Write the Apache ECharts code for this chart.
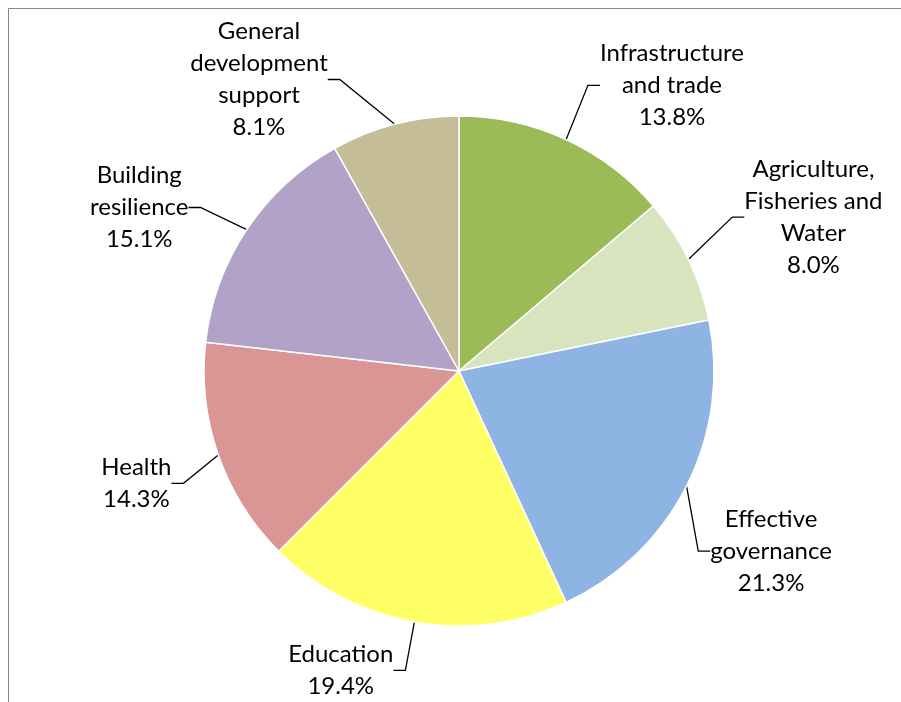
<!DOCTYPE html>
<html>
<head>
<meta charset="utf-8">
<script src="https://cdn.jsdelivr.net/npm/echarts@6/dist/echarts.min.js"></script>
<style>html,body{margin:0;padding:0;background:#fff}#c{width:901px;height:702px}</style>
</head>
<body>
<div id="c"></div>
<script>
var categories = ["Infrastructure\nand trade", "Agriculture,\nFisheries and\nWater", "Effective\ngovernance", "Education", "Health", "Building\nresilience", "General\ndevelopment\nsupport"];
var shares = [13.8, 8.0, 21.3, 19.4, 14.3, 15.1, 8.1];
var colors = ["#9BBB59", "#D7E4BD", "#8EB4E3", "#FFFF66", "#D99694", "#B3A2C7", "#C4BD97"];

// label nudges (layout only, pixels)
var labelShift = [[0, -18], [3, -25], [-29, 47], [3, 9], [8, 15], [-8, 0], [-40, -6]];

var chart = echarts.init(document.getElementById('c'), null, {renderer: 'canvas'});
var data = categories.map(function (c, i) {
  return {name: c, value: shares[i], itemStyle: {color: colors[i]}};
});
chart.setOption({
  animation: false,
  graphic: [{
    type: 'rect', z: -1,
    shape: {x: 8.5, y: 8.5, width: 1000, height: 1000},
    style: {fill: 'none', stroke: '#868686', lineWidth: 1}
  }],
  series: [{
    type: 'pie',
    center: [459, 371],
    radius: [0, 255],
    startAngle: 90,
    clockwise: true,
    data: data,
    itemStyle: {borderColor: '#fff', borderWidth: 1.5},
    label: {
      show: true,
      position: 'outside',
      formatter: function (p) { return p.name + '\n' + p.value.toFixed(1) + '%'; },
      fontFamily: 'Lato, "Open Sans", sans-serif',
      fontSize: 24,
      lineHeight: 32,
      color: '#000'
    },
    labelLine: {
      show: true,
      length: 40,
      length2: 12,
      lineStyle: {color: '#000', width: 1.3}
    },
    labelLayout: function (p) {
      var r = p.labelRect;
      var s = labelShift[p.dataIndex];
      return {x: r.x + r.width / 2 + s[0], y: r.y + r.height / 2 + s[1], align: 'center', verticalAlign: 'middle'};
    }
  }]
});
</script>
</body>
</html>
